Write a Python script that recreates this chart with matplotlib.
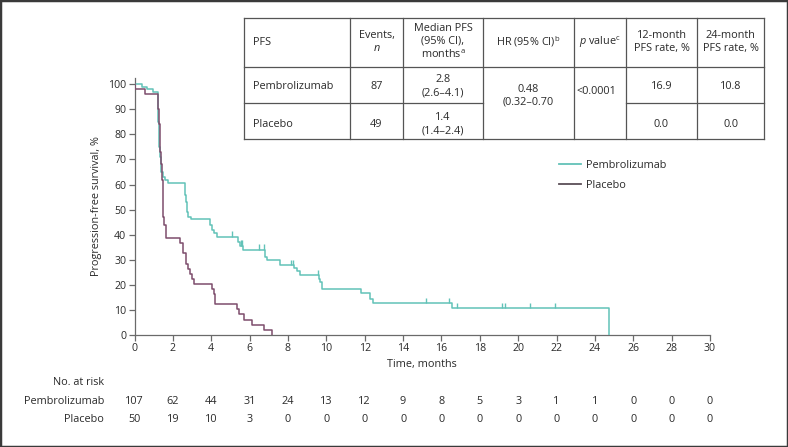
import matplotlib
matplotlib.use("Agg")
import matplotlib.pyplot as plt
from matplotlib.lines import Line2D
from matplotlib.patches import Rectangle
from matplotlib.transforms import blended_transform_factory

plt.rcParams['font.family'] = ['Open Sans', 'DejaVu Sans']
plt.rcParams['mathtext.fontset'] = 'custom'
plt.rcParams['mathtext.rm'] = 'Open Sans'
plt.rcParams['mathtext.it'] = 'Open Sans:italic'

# Kaplan-Meier steps (time in months, PFS in %)
pembro_t = [0, 0.4, 0.65, 0.95, 1.2, 1.22, 1.25, 1.28, 1.3, 1.33, 1.36, 1.4, 1.48, 1.58,
            1.75, 2.62, 2.66, 2.72, 2.78, 2.95, 3.95, 4.02, 4.12, 4.3, 5.42, 5.5, 5.68,
            6.82, 6.9, 7.6, 8.3, 8.45, 8.65, 9.6, 9.68, 9.78, 11.8, 12.28, 12.42, 16.55, 24.73]
pembro_s = [100, 99, 98, 97, 92, 88, 85, 80, 75, 71, 68, 65, 63, 62,
            60.7, 55.8, 53, 49, 47, 46.1, 43.8, 41.8, 40.5, 39.2, 37.2, 35.5, 33.9,
            31.2, 29.9, 27.9, 26.6, 25.5, 23.9, 22.5, 21, 18.3, 16.6, 14.3, 12.6, 10.6, 0]
pembro_cens_t = [5.07, 5.55, 5.62, 6.5, 6.75, 8.17, 8.26, 9.55, 15.17, 16.38,
                 16.81, 19.15, 19.32, 20.62, 21.9]
pembro_cens_s = [39.2, 35.5, 35.5, 33.9, 33.9, 27.9, 27.9, 23.9, 12.6, 12.6,
                 10.6, 10.6, 10.6, 10.6, 10.6]

placebo_t = [0, 0.05, 0.55, 1.25, 1.28, 1.31, 1.34, 1.38, 1.42, 1.46, 1.5, 1.55, 1.62,
             2.35, 2.55, 2.68, 2.8, 2.9, 3.0, 3.1, 4.03, 4.12, 4.22, 5.32, 5.45, 5.72,
             6.15, 6.75, 7.15]
placebo_s = [100, 98, 96, 90, 84, 78, 73, 68, 62, 55, 47, 44, 38.8,
             36.7, 32.5, 28.5, 26.5, 24.5, 22.5, 20.4, 18.4, 16.3, 12.2, 10.2, 8.2, 6.1,
             4.1, 2.0, 0]

risk_times = list(range(0, 31, 2))
risk_pembro = [107, 62, 44, 31, 24, 13, 12, 9, 8, 5, 3, 1, 1, 0, 0, 0]
risk_placebo = [50, 19, 10, 3, 0, 0, 0, 0, 0, 0, 0, 0, 0, 0, 0, 0]

# summary table
tab_header = ['PFS', 'Events,\n$\\mathit{n}$', 'Median PFS\n(95% CI),\nmonths$^{\\mathrm{a}}$',
              'HR (95% CI)$^{\\mathrm{b}}$', '$\\mathit{p}$ value$^{\\mathrm{c}}$',
              '12-month\nPFS rate, %', '24-month\nPFS rate, %']
tab_rows = [['Pembrolizumab', '87', '2.8\n(2.6\u20134.1)', '16.9', '10.8'],
            ['Placebo', '49', '1.4\n(1.4\u20132.4)', '0.0', '0.0']]
tab_hr = '0.48\n(0.32\u20130.70'
tab_p = '<0.0001'

teal = '#62c2b8'
plum = '#7d4d6c'
grey = '#6a6a6a'
txt = '#2a2a2a'
fs = 7.8

W, H = 788, 447
fig = plt.figure(figsize=(W / 100, H / 100), dpi=100)
ax = fig.add_axes([134.5 / W, 1 - 335 / H, (710 - 134.5) / W, (335 - 77.7) / H])

ax.step(pembro_t, pembro_s, where='post', color=teal, lw=1.1, label='Pembrolizumab', zorder=3)
ax.step(placebo_t, placebo_s, where='post', color=plum, lw=1.1, zorder=3)
ax.vlines(pembro_cens_t, pembro_cens_s, [s + 2.2 for s in pembro_cens_s], color=teal, lw=1.0, zorder=3)

ax.set_xlim(0, 30)
ax.set_ylim(0, 102.6)
ax.set_xticks(risk_times)
ax.set_yticks(range(0, 101, 10))
for sp in ['top', 'right']:
    ax.spines[sp].set_visible(False)
for sp in ['left', 'bottom']:
    ax.spines[sp].set_color(grey)
    ax.spines[sp].set_linewidth(0.9)
ax.tick_params(colors=grey, labelcolor=txt, labelsize=7.6, length=4, width=0.9, pad=2)
ax.set_xlabel('Time, months', fontsize=fs, color=txt, labelpad=3)
ax.set_ylabel('Progression-free survival, %', fontsize=fs, color=txt, labelpad=4)

handles = [Line2D([], [], color=teal, lw=1.3), Line2D([], [], color='#5b4e57', lw=1.3)]
fig.legend(handles, ['Pembrolizumab', 'Placebo'], loc='upper left',
           bbox_to_anchor=(559 / W, 1 - 160 / H), frameon=False, fontsize=fs,
           handlelength=2.0, handletextpad=0.45, labelspacing=0.85,
           borderpad=0, borderaxespad=0, labelcolor=txt)

# number at risk
tr = blended_transform_factory(ax.transData, fig.transFigure)
fig.text(104 / W, 1 - 382.7 / H, 'No. at risk', ha='right', va='center', fontsize=fs, color=txt)
fig.text(104 / W, 1 - 401 / H, 'Pembrolizumab', ha='right', va='center', fontsize=fs, color=txt)
fig.text(104 / W, 1 - 420 / H, 'Placebo', ha='right', va='center', fontsize=fs, color=txt)
for t, a, b in zip(risk_times, risk_pembro, risk_placebo):
    ax.text(t, 1 - 401 / H, str(a), transform=tr, ha='center', va='center', fontsize=fs, color=txt)
    ax.text(t, 1 - 420 / H, str(b), transform=tr, ha='center', va='center', fontsize=fs, color=txt)

# table drawn in pixel positions
cols = [244, 350, 403, 483, 574, 626, 697, 764]
rows = [18, 67, 103, 139]


def fline(x0, y0, x1, y1):
    fig.add_artist(Line2D([x0 / W, x1 / W], [1 - y0 / H, 1 - y1 / H],
                          transform=fig.transFigure, color='#555555', lw=0.9))


def ftext(x, y, s, ha='center'):
    fig.text(x / W, 1 - y / H, s, ha=ha, va='center', fontsize=fs, color=txt,
             linespacing=1.25, multialignment='center')


fig.add_artist(Rectangle((cols[0] / W, 1 - rows[-1] / H), (cols[-1] - cols[0]) / W,
                         (rows[-1] - rows[0]) / H, transform=fig.transFigure,
                         facecolor='white', edgecolor='none', zorder=0.5))
for x in cols:
    fline(x, rows[0], x, rows[-1])
fline(cols[0], rows[0], cols[-1], rows[0])
fline(cols[0], rows[1], cols[-1], rows[1])
fline(cols[0], rows[3], cols[-1], rows[3])
fline(cols[0], rows[2], cols[3], rows[2])
fline(cols[5], rows[2], cols[7], rows[2])

mid = [(cols[i] + cols[i + 1]) / 2 for i in range(7)]
ftext(253, 42.5, tab_header[0], ha='left')
for i in range(1, 7):
    ftext(mid[i], 42, tab_header[i])
for r, yc in zip(tab_rows, [86.5, 124.5]):
    ftext(253, yc, r[0], ha='left')
    ftext(mid[1], yc, r[1])
    ftext(mid[2], yc, r[2])
    ftext(mid[5], yc, r[3])
    ftext(mid[6], yc, r[4])
ftext(mid[3], 96, tab_hr)
ftext(596, 92, tab_p)

# figure frame
fig.add_artist(Rectangle((0, 0), 1, 1, transform=fig.transFigure, fill=False,
                         edgecolor='#3a3a3a', lw=2.5))

fig.savefig('out.png', dpi=100)
